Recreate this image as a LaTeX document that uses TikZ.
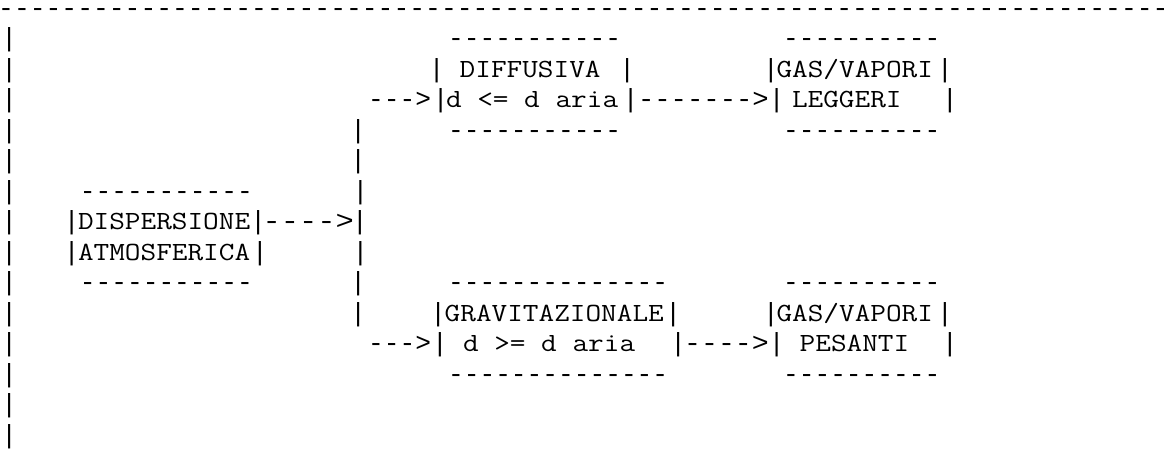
\documentclass[tikz,border=0pt]{standalone}
\usepackage{fontspec}
\usepackage{graphicx}
\newfontfamily\symfont{Liberation Mono}[Ligatures=TeXOff]
\newcommand\sym[1]{{\symfont #1}}
\newcommand\symx[2]{\scalebox{#1}[1]{\symfont #2}}
\newcommand\wrd[1]{\scalebox{1.16}[1]{\ttfamily #1}}
\begin{document}
\begin{tikzpicture}[x=1pt,y=-1pt,
  tok/.style={anchor=base west, inner sep=0pt, outer sep=0pt,
    font=\fontsize{26.2}{30}\selectfont, text=black}]
\fill[white] (0,0) rectangle (1175,456);
\useasboundingbox (0,0) rectangle (1175,456);
% top rule
\node[tok, text height=8pt] (toprule) at (-1.8,16.3) {\symx{1.006}{--------------------------------------------------------------------------}};
% left border
\foreach \k in {1,...,14} {\node[tok] (border\k) at (1.4,{16.3+30.5*\k}) {\sym{|}};}
% row 1
\node[tok] (difftop) at (448.1,46.8) {\sym{-----------}};
\node[tok] (leggtop) at (783.1,46.8) {\sym{----------}};
% row 2
\node[tok] (diffl) at (428.8,77.3) {\sym{|}};
\node[tok] (difftxt) at (459.7,77.3) {\wrd{DIFFUSIVA}};
\node[tok] (diffr) at (619.4,77.3) {\sym{|}};
\node[tok] (leggl1) at (763.1,77.3) {\sym{|}};
\node[tok] (leggtxta) at (776.5,77.3) {\wrd{GAS/VAPORI}};
\node[tok] (leggr1) at (937.1,77.3) {\sym{|}};
% row 3
\node[tok] (diffin) at (368.1,107.8) {\sym{--->}};
\node[tok] (diffl2) at (432.8,107.8) {\sym{|}};
\node[tok] (difftxtb) at (446,107.8) {\wrd{d <= d aria}};
\node[tok] (diffr2) at (622.8,107.8) {\sym{|}};
\node[tok] (diffout) at (638.0,107.8) {\symx{1.04}{------->}};
\node[tok] (leggl) at (768.8,107.8) {\sym{|}};
\node[tok] (leggtxtb) at (792,107.8) {\wrd{LEGGERI}};
\node[tok] (leggr) at (942.1,107.8) {\sym{|}};
% row 4
\node[tok] (mid4) at (350.4,138.3) {\sym{|}};
\node[tok] (diffbot) at (448.1,138.3) {\sym{-----------}};
\node[tok] (leggbot) at (783.1,138.3) {\sym{----------}};
% row 5
\node[tok] (mid5) at (350.4,168.8) {\sym{|}};
% row 6
\node[tok] (disptop) at (79.9,199.3) {\sym{-----------}};
\node[tok] (mid6) at (352.6,199.3) {\sym{|}};
% row 7
\node[tok] (displ1) at (63.8,229.8) {\sym{|}};
\node[tok] (disptxta) at (78,229.8) {\wrd{DISPERSIONE}};
\node[tok] (dispr1) at (250.4,229.8) {\sym{|}};
\node[tok] (dispout) at (262.5,229.8) {\symx{1.164}{---->}};
\node[tok] (mid7) at (352.1,229.8) {\sym{|}};
% row 8
\node[tok] (displ2) at (63.8,260.3) {\sym{|}};
\node[tok] (disptxtb) at (78,260.3) {\wrd{ATMOSFERICA}};
\node[tok] (dispr2) at (252.1,260.3) {\sym{|}};
\node[tok] (mid8) at (352.6,260.3) {\sym{|}};
% row 9
\node[tok] (dispbot) at (79.9,290.8) {\sym{-----------}};
\node[tok] (mid9) at (350.4,290.8) {\sym{|}};
\node[tok] (gravtop) at (448.1,290.8) {\sym{--------------}};
\node[tok] (pestop) at (783.1,290.8) {\sym{----------}};
% row 10
\node[tok] (mid10) at (350.4,321.3) {\sym{|}};
\node[tok] (gravl1) at (430.4,321.3) {\sym{|}};
\node[tok] (gravtxta) at (444.7,321.3) {\wrd{GRAVITAZIONALE}};
\node[tok] (gravr1) at (665.4,321.3) {\sym{|}};
\node[tok] (pesl1) at (763.1,321.3) {\sym{|}};
\node[tok] (pestxta) at (776.5,321.3) {\wrd{GAS/VAPORI}};
\node[tok] (pesr1) at (937.1,321.3) {\sym{|}};
% row 11
\node[tok] (gravin) at (368.1,351.8) {\sym{--->}};
\node[tok] (gravl2) at (432.1,351.8) {\sym{|}};
\node[tok] (gravtxtb) at (463,351.8) {\wrd{d >= d aria}};
\node[tok] (gravr) at (670.4,351.8) {\sym{|}};
\node[tok] (gravout) at (684.1,351.8) {\symx{1.078}{---->}};
\node[tok] (pesl) at (768.8,351.8) {\sym{|}};
\node[tok] (pestxtb) at (799.7,351.8) {\wrd{PESANTI}};
\node[tok] (pesr) at (942.1,351.8) {\sym{|}};
% row 12
\node[tok] (gravbot) at (448.1,382.3) {\sym{--------------}};
\node[tok] (pesbot) at (783.1,382.3) {\sym{----------}};
\end{tikzpicture}
\end{document}
